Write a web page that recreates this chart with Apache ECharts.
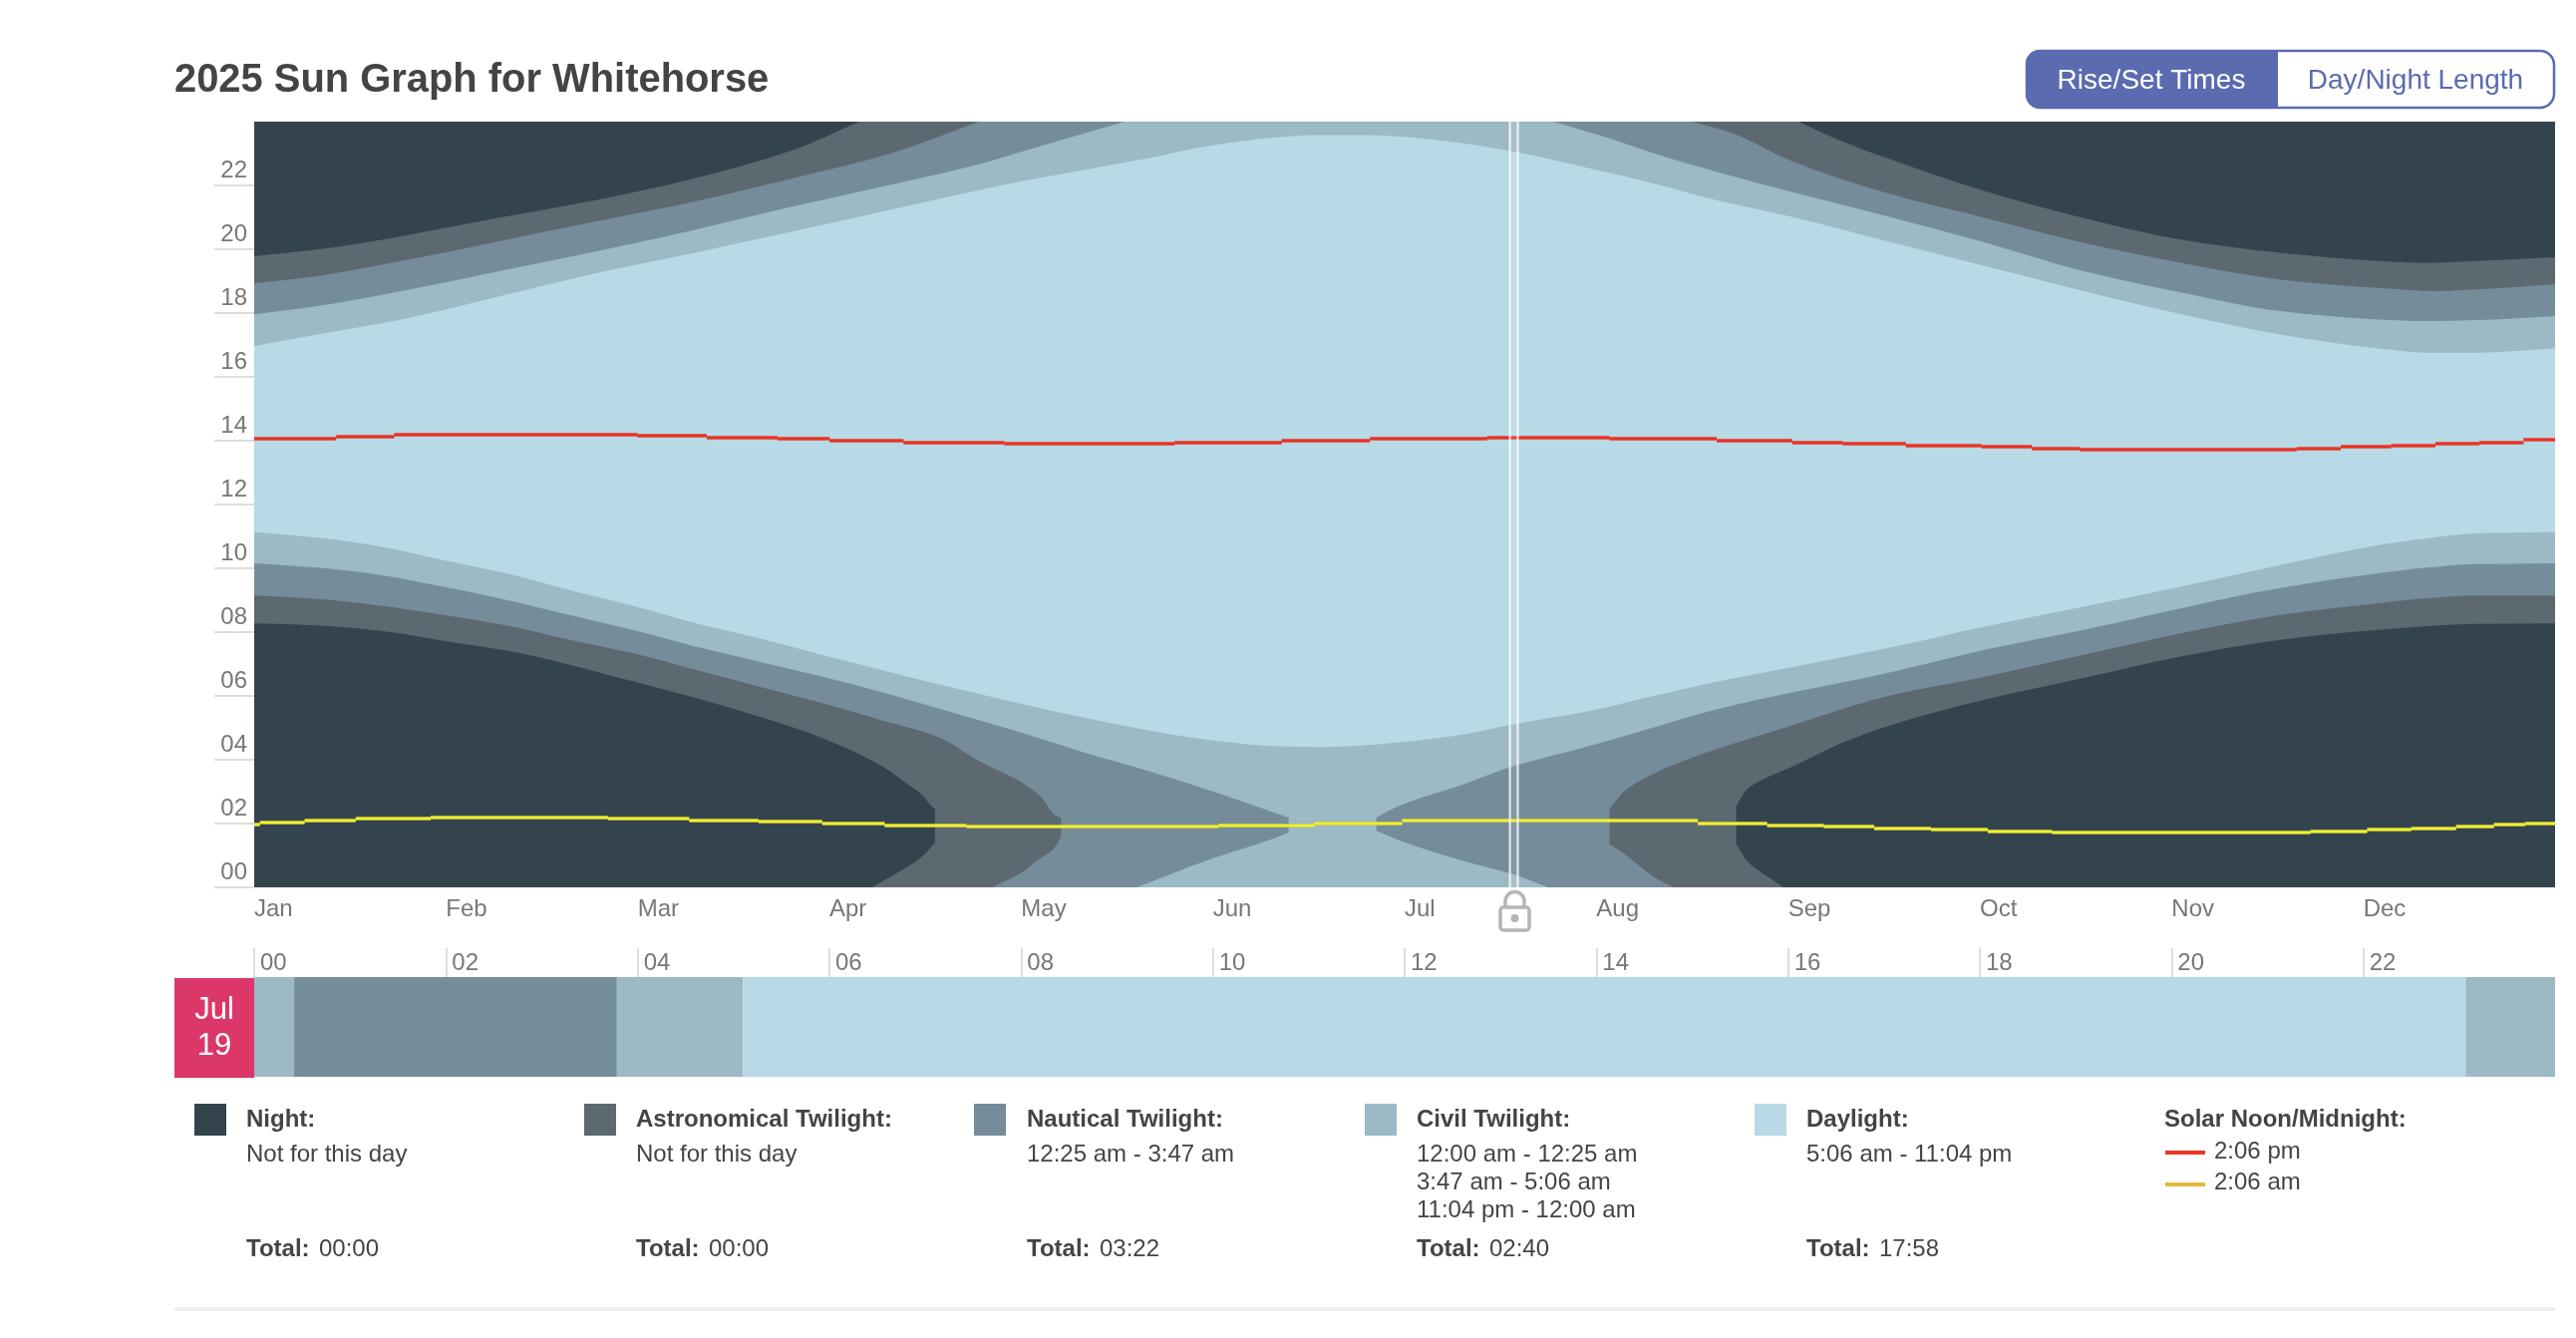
<!DOCTYPE html>
<html>
<head>
<meta charset="utf-8">
<title>2025 Sun Graph for Whitehorse</title>
<script src="https://cdn.jsdelivr.net/npm/echarts@6/dist/echarts.min.js"></script>
<style>
  html, body { margin: 0; padding: 0; background: #fff; }
  #chart { width: 2584px; height: 1342px; }
</style>
</head>
<body>
<div id="chart"></div>
<script>
// Axis labels
const monthLabels = ['Jan','Feb','Mar','Apr','May','Jun','Jul','Aug','Sep','Oct','Nov','Dec'];
const hourLabels = ['00','02','04','06','08','10','12','14','16','18','20','22'];
const hourTicks = [0,2,4,6,8,10,12,14,16,18,20,22];

// Band edges, each point is [day of year, hour of day]
const dawnDaylight = [[0,11.13],[10,10.96],[20,10.68],[30,10.26],[40,9.84],[50,9.32],[60,8.83],[70,8.28],[80,7.81],[90,7.29],[100,6.79],[110,6.30],[120,5.83],[131.8,5.31],[141.8,4.92],[151.8,4.61],[161.8,4.43],[168.4,4.40],[171.8,4.41],[181.8,4.55],[191.8,4.79],[199.5,5.10],[211.8,5.52],[221.8,5.99],[231.8,6.44],[243.5,6.88],[259.1,7.50],[274.7,8.18],[290.2,8.80],[305.8,9.43],[321.4,10.10],[337,10.73],[344.7,10.94],[352.5,11.09],[365,11.13]];
const duskDaylight = [[0,16.97],[10,17.33],[23.3,17.80],[40,18.58],[54.4,19.26],[69.9,19.89],[85.5,20.56],[101,21.24],[116.6,21.92],[121.8,22.13],[131.8,22.49],[141.8,22.85],[151.8,23.25],[161.8,23.50],[168.4,23.58],[176.2,23.58],[181.8,23.53],[191.8,23.32],[199.5,23.07],[211.8,22.54],[221.8,22.07],[231.8,21.55],[243.6,21.03],[259.1,20.25],[274.7,19.47],[290.2,18.69],[305.8,17.96],[321.4,17.33],[337,16.89],[344.7,16.76],[352.5,16.76],[365,16.89]];

const dawnCivilSpring = [[0,10.16],[10,10.02],[20,9.79],[30,9.42],[40,9.01],[50,8.54],[60,8.07],[70,7.55],[80,7.08],[90,6.61],[100,6.09],[110,5.52],[121.8,4.84],[131.8,4.22],[141.8,3.65],[151.8,3.02],[161.8,2.34],[164.1,2.19]];
const wrapCivilSpring = [[140,0],[151.8,0.89],[161.8,1.54],[164.1,1.72]];
const dawnCivilAutumn = [[178,2.19],[181.8,2.57],[191.8,3.23],[199.5,3.78],[211.8,4.43],[221.8,5.00],[231.8,5.57],[243.6,6.09],[259.1,6.72],[274.7,7.45],[290.2,8.07],[305.8,8.75],[321.4,9.38],[337,9.84],[344.7,10.02],[352.5,10.13],[365,10.16]];
const wrapCivilAutumn = [[178,1.77],[181.8,1.46],[191.8,0.83],[199.5,0.42],[205.3,0]];
const duskCivilSpring = [[0,17.96],[10,18.22],[23.3,18.69],[40,19.36],[54.4,19.94],[69.9,20.61],[85.5,21.34],[101,22.02],[116.6,22.75],[121.8,23.06],[131.8,23.64],[138.1,24]];
const duskCivilAutumn = [[206,24],[215,23.48],[222,23.01],[231.8,22.44],[243.6,21.81],[259.1,21.03],[274.7,20.20],[290.2,19.31],[305.8,18.64],[321.4,18.06],[337,17.80],[344.7,17.75],[352.5,17.78],[365,17.91]];

const dawnNauticalSpring = [[0,9.15],[10,9.04],[20,8.83],[30,8.54],[40,8.21],[50,7.76],[60,7.34],[70,6.82],[80,6.30],[90,5.78],[100,5.21],[108.8,4.69],[115,3.96],[121.8,3.28],[124.9,2.81],[127.2,2.24],[128,2.19]];
const wrapNauticalSpring = [[117,0],[121.8,0.47],[124.1,0.83],[127.2,1.30],[128,1.62]];
const dawnNauticalAutumn = [[215,2.45],[217.4,3.02],[221.8,3.54],[226.7,3.96],[231.8,4.32],[243.5,5.05],[259.1,5.99],[274.7,6.61],[290.2,7.29],[305.8,7.97],[321.4,8.54],[337,8.91],[344.7,9.06],[352.5,9.15],[365,9.15]];
const wrapNauticalAutumn = [[215,1.35],[217.4,1.04],[221.8,0.36],[225.1,0]];
const duskNauticalSpring = [[0,18.93],[10,19.16],[23.3,19.63],[40,20.30],[54.4,20.88],[69.9,21.50],[85.5,22.23],[101,23.01],[115,24]];
const duskNauticalAutumn = [[228.1,24],[234.5,23.64],[243.5,22.80],[259.1,21.76],[274.7,20.98],[290.2,20.20],[305.8,19.57],[321.4,19.05],[337,18.79],[346.3,18.69],[352.5,18.74],[365,18.90]];

const dawnAstroSpring = [[0,8.27],[10,8.21],[20,8.04],[30,7.73],[40,7.42],[50,6.98],[60,6.46],[70,5.94],[80,5.36],[90,4.69],[100,3.75],[103.3,3.28],[106.1,2.87],[107.2,2.60],[108,2.45]];
const wrapAstroSpring = [[98,0],[102.6,0.52],[106.1,0.99],[108,1.41]];
const dawnAstroAutumn = [[235.1,2.55],[236.8,3.07],[239.9,3.44],[243.6,3.75],[251.3,4.48],[259.1,5.05],[274.7,5.89],[290.2,6.56],[305.8,7.24],[321.4,7.76],[337,8.07],[352.5,8.26],[365,8.27]];
const wrapAstroAutumn = [[235.1,1.35],[236.8,0.83],[239.9,0.36],[242.6,0]];
const duskAstroSpring = [[0,19.78],[10,19.99],[23.3,20.41],[40,21.03],[54.4,21.55],[69.9,22.23],[85.5,23.11],[96,24]];
const duskAstroAutumn = [[245,24],[251.3,23.43],[259.1,22.85],[274.7,21.81],[290.2,20.98],[305.8,20.30],[321.4,19.89],[337,19.63],[344.7,19.57],[352.5,19.63],[365,19.75]];

// Solar noon and solar midnight: each value holds until the next entry's day
const solarNoon = [[0,14.06],[13,14.13],[22.2,14.2],[60.8,14.15],[71.8,14.1],[83,14.05],[91.3,14],[103,13.95],[119,13.9],[146,13.95],[163,14],[177,14.05],[195.6,14.1],[215,14.05],[232,14],[244,13.95],[252,13.9],[262,13.85],[274,13.8],[282,13.76],[289.6,13.71],[324,13.76],[331,13.8],[339,13.85],[346,13.9],[353,13.95],[360,14.03],[365,14.03]];
const solarMidnight = [[0,1.98],[0.9,2.03],[8,2.10],[16.1,2.146],[28,2.198],[56.1,2.146],[69,2.10],[80,2.05],[90.1,2.0],[100,1.948],[113,1.896],[153,1.948],[168.2,2.0],[182.1,2.1],[229,1.99],[240,1.948],[249,1.896],[257,1.854],[266,1.80],[275,1.76],[285.2,1.71],[326.2,1.76],[335.2,1.80],[342.2,1.854],[349.3,1.906],[355.3,1.958],[360.3,2.01],[365,2.01]];

// The selected day's column on the year axis
const selectedColumn = [199.2, 200.45];

// The selected day, in minutes since midnight
const stripStarts = [0, 25, 227, 306, 1384];
const stripEnds = [25, 227, 306, 1384, 1440];
const stripBands = ['civil', 'nautical', 'civil', 'daylight', 'civil'];

const FONT = '"Liberation Sans", Helvetica, Arial, sans-serif';
const colors = {
  night: '#34444e', astro: '#5c6970', nautical: '#758c9a', civil: '#9cb9c6', daylight: '#b8d9e6'
};

// A region is a list of runs; each run is curved through its points and
// runs are joined by straight segments.
const above = e => [[[e[0][0], 24]], e, [[e[e.length - 1][0], 24]]];
const below = e => [[[e[0][0], 0]], e, [[e[e.length - 1][0], 0]]];
const lobeSpring = (upper, lower) => [[[0, 0]], upper, lower.slice().reverse()];
const lobeAutumn = (upper, lower) => [upper, [[365, 0]], lower.slice().reverse()];

const wholeYear = [[[0, 0]], [[365, 0]], [[365, 24]], [[0, 24]]];
const layers = [
  { fill: colors.daylight, regions: [wholeYear] },
  { fill: colors.civil, regions: [above(duskDaylight), below(dawnDaylight)] },
  { fill: colors.nautical, regions: [above(duskCivilSpring), above(duskCivilAutumn), lobeSpring(dawnCivilSpring, wrapCivilSpring), lobeAutumn(dawnCivilAutumn, wrapCivilAutumn)] },
  { fill: colors.astro, regions: [above(duskNauticalSpring), above(duskNauticalAutumn), lobeSpring(dawnNauticalSpring, wrapNauticalSpring), lobeAutumn(dawnNauticalAutumn, wrapNauticalAutumn)] },
  { fill: colors.night, regions: [above(duskAstroSpring), above(duskAstroAutumn), lobeSpring(dawnAstroSpring, wrapAstroSpring), lobeAutumn(dawnAstroAutumn, wrapAstroAutumn)] }
];

// Monotone cubic segments through pixel points, so edges stay round without overshoot
function runPath(px, isFirst) {
  let d = (isFirst ? 'M' : 'L') + px[0][0] + ' ' + px[0][1];
  const n = px.length;
  if (n < 2) return d;
  const h = [], s = [];
  for (let i = 0; i < n - 1; i++) {
    h[i] = px[i + 1][0] - px[i][0];
    s[i] = (px[i + 1][1] - px[i][1]) / h[i];
  }
  const m = [s[0]];
  for (let i = 1; i < n - 1; i++) {
    m[i] = s[i - 1] * s[i] <= 0 ? 0
      : 3 * (h[i - 1] + h[i]) / ((2 * h[i] + h[i - 1]) / s[i - 1] + (h[i] + 2 * h[i - 1]) / s[i]);
  }
  m[n - 1] = s[n - 2];
  for (let i = 0; i < n - 1; i++) {
    const t = h[i] / 3;
    d += ' C' + (px[i][0] + t) + ' ' + (px[i][1] + m[i] * t) + ' '
      + (px[i + 1][0] - t) + ' ' + (px[i + 1][1] - m[i + 1] * t) + ' '
      + px[i + 1][0] + ' ' + px[i + 1][1];
  }
  return d;
}

const bandSeries = layers.map((layer, i) => ({
  type: 'custom',
  coordinateSystem: 'cartesian2d',
  xAxisIndex: 0,
  yAxisIndex: 0,
  silent: true,
  z: 1 + i,
  data: layer.regions.map((r, k) => [k]),
  encode: { x: [], y: [] },
  renderItem: (params, api) => ({
    type: 'path',
    shape: {
      pathData: layer.regions[params.dataIndex]
        .map((run, k) => runPath(run.map(p => api.coord(p)), k === 0))
        .join(' ') + ' Z'
    },
    style: { fill: layer.fill }
  })
}));

// Flat runs of a stepped daily time, one horizontal stroke per entry
const stepLine = (data, color, width, opacity, z) => ({
  type: 'custom',
  coordinateSystem: 'cartesian2d',
  xAxisIndex: 0,
  yAxisIndex: 0,
  silent: true,
  z,
  data,
  encode: { x: 0, y: 1 },
  renderItem: (params, api) => {
    const i = params.dataIndex;
    if (i >= data.length - 1) return null;
    const a = api.coord(data[i]);
    const b = api.coord([data[i + 1][0], data[i][1]]);
    const y = Math.round(a[1]);
    return {
      type: 'line',
      shape: { x1: a[0], y1: y, x2: b[0], y2: y },
      style: { stroke: color, lineWidth: width, opacity, lineCap: 'butt' }
    };
  }
});

const selectedSeries = {
  type: 'custom',
  coordinateSystem: 'cartesian2d',
  xAxisIndex: 0,
  yAxisIndex: 0,
  silent: true,
  z: 12,
  data: [selectedColumn],
  encode: { x: [0, 1], y: [] },
  renderItem: (params, api) => {
    const a = api.coord([api.value(0), 0]);
    const b = api.coord([api.value(1), 24]);
    return {
      type: 'group',
      children: [
        { type: 'rect', shape: { x: a[0], y: b[1], width: b[0] - a[0], height: a[1] - b[1] }, style: { fill: 'rgba(255,255,255,0.1)' } },
        { type: 'line', shape: { x1: a[0], y1: a[1], x2: a[0], y2: b[1] }, style: { stroke: 'rgba(255,255,255,0.85)', lineWidth: 2 } },
        { type: 'line', shape: { x1: b[0], y1: a[1], x2: b[0], y2: b[1] }, style: { stroke: 'rgba(255,255,255,0.85)', lineWidth: 2 } }
      ]
    };
  }
};

const stripSeries = {
  type: 'custom',
  coordinateSystem: 'cartesian2d',
  xAxisIndex: 1,
  yAxisIndex: 1,
  silent: true,
  z: 2,
  data: stripStarts.map((s, i) => [s / 60, stripEnds[i] / 60, stripBands[i]]),
  encode: { x: [0, 1], y: [] },
  renderItem: (params, api) => {
    const a = api.coord([api.value(0), 0]);
    const b = api.coord([api.value(1), 1]);
    return {
      type: 'rect',
      shape: { x: a[0], y: b[1], width: b[0] - a[0], height: a[1] - b[1] },
      style: { fill: colors[stripBands[params.dataIndex]] }
    };
  }
};

// Page furniture around the two plots
const txt = (x, y, text, size, color, weight, align) => ({
  type: 'text', silent: true, z: 20,
  style: {
    x, y, text, fill: color,
    font: (weight || 'normal') + ' ' + size + 'px ' + FONT,
    textAlign: align || 'left', textVerticalAlign: 'middle'
  }
});
const box = (x, y, width, height, fill, r) => ({
  type: 'rect', silent: true, z: 20,
  shape: { x, y, width, height, r: r || 0 },
  style: { fill }
});

const INK = '#444444';
const legendColumns = [
  { sx: 195, tx: 247, fill: colors.night, name: 'Night:', lines: ['Not for this day'], total: '00:00' },
  { sx: 586, tx: 638, fill: colors.astro, name: 'Astronomical Twilight:', lines: ['Not for this day'], total: '00:00' },
  { sx: 977, tx: 1030, fill: colors.nautical, name: 'Nautical Twilight:', lines: ['12:25 am - 3:47 am'], total: '03:22' },
  { sx: 1369, tx: 1421, fill: colors.civil, name: 'Civil Twilight:', lines: ['12:00 am - 12:25 am', '3:47 am - 5:06 am', '11:04 pm - 12:00 am'], total: '02:40' },
  { sx: 1760, tx: 1812, fill: colors.daylight, name: 'Daylight:', lines: ['5:06 am - 11:04 pm'], total: '17:58' }
];

const graphics = [];
graphics.push(txt(175, 81, '2025 Sun Graph for Whitehorse', 39.9, INK, 'bold'));

// Rise/Set and Day/Night toggle
graphics.push({
  type: 'rect', silent: true, z: 20,
  shape: { x: 2033, y: 51, width: 529, height: 57, r: 14 },
  style: { fill: '#ffffff', stroke: '#5a6bb0', lineWidth: 2.5 }
});
graphics.push({
  type: 'rect', silent: true, z: 21,
  shape: { x: 2032, y: 50, width: 253, height: 59, r: [14, 0, 0, 14] },
  style: { fill: '#5a6bb0' }
});
graphics.push(Object.assign(txt(2158, 81.5, 'Rise/Set Times', 28, '#ffffff', 'normal', 'center'), { z: 22 }));
graphics.push(txt(2423, 81.5, 'Day/Night Length', 28, '#5a6bb0', 'normal', 'center'));

// Padlock under the selected column
const lockGrey = '#b5b5b5';
graphics.push({
  type: 'arc', silent: true, z: 20,
  shape: { cx: 1519.5, cy: 904, r: 9.5, startAngle: Math.PI, endAngle: 2 * Math.PI, clockwise: true },
  style: { fill: 'none', stroke: lockGrey, lineWidth: 3.5 }
});
graphics.push({
  type: 'line', silent: true, z: 20,
  shape: { x1: 1510, y1: 904, x2: 1510, y2: 910 },
  style: { stroke: lockGrey, lineWidth: 3.5 }
});
graphics.push({
  type: 'line', silent: true, z: 20,
  shape: { x1: 1529, y1: 904, x2: 1529, y2: 910 },
  style: { stroke: lockGrey, lineWidth: 3.5 }
});
graphics.push({
  type: 'rect', silent: true, z: 20,
  shape: { x: 1505, y: 910, width: 29, height: 23, r: 3 },
  style: { fill: '#ffffff', stroke: lockGrey, lineWidth: 3.5 }
});
graphics.push({
  type: 'circle', silent: true, z: 20,
  shape: { cx: 1519.5, cy: 921, r: 4 },
  style: { fill: lockGrey }
});

// Date badge beside the day strip
graphics.push(box(175, 981, 80, 100, '#db3769'));
graphics.push(txt(215, 1013.5, 'Jul', 31, '#ffffff', 'normal', 'center'));
graphics.push(txt(215, 1049.5, '19', 31, '#ffffff', 'normal', 'center'));

// Legend columns
legendColumns.forEach(c => {
  graphics.push(box(c.sx, 1107, 32, 32, c.fill));
  graphics.push(txt(c.tx, 1123, c.name, 24, INK, 'bold'));
  c.lines.forEach((line, i) => graphics.push(txt(c.tx, 1158 + i * 28, line, 24, INK)));
  graphics.push(txt(c.tx, 1253.5, 'Total:', 24, INK, 'bold'));
  graphics.push(txt(c.tx + 73, 1253.5, c.total, 24, INK));
});
graphics.push(txt(2171, 1123, 'Solar Noon/Midnight:', 24, INK, 'bold'));
graphics.push(box(2172, 1154, 40, 4, '#ee3524'));
graphics.push(txt(2221, 1155, '2:06 pm', 24, INK));
graphics.push(box(2172, 1186, 40, 4, '#e0b93e'));
graphics.push(txt(2221, 1186.5, '2:06 am', 24, INK));

// Rule closing the panel
graphics.push(box(175, 1311, 2388, 4, '#eeeeee'));

const tickGrey = '#dddddd';
const labelGrey = '#777777';

const chart = echarts.init(document.getElementById('chart'), null, { renderer: 'canvas', width: 2584, height: 1342 });
chart.setOption({
  animation: false,
  backgroundColor: '#ffffff',
  grid: [
    { left: 255, top: 122, width: 2308, height: 768 },
    { left: 255, top: 980, width: 2308, height: 100 }
  ],
  xAxis: [
    {
      type: 'value', gridIndex: 0, min: 0, max: 365, position: 'bottom',
      splitLine: { show: false }, axisLine: { show: false, onZero: false }, axisTick: { show: false },
      axisLabel: {
        customValues: monthLabels.map((m, i) => i * 365 / 12),
        formatter: v => monthLabels[Math.round(v * 12 / 365)],
        align: 'left', verticalAlign: 'top', margin: 10,
        fontFamily: FONT, fontSize: 24, color: labelGrey
      }
    },
    {
      type: 'value', gridIndex: 1, min: 0, max: 24, position: 'top',
      splitLine: { show: false }, axisLine: { show: false, onZero: false },
      axisTick: { show: true, customValues: hourTicks, length: 29, lineStyle: { color: tickGrey, width: 2 } },
      axisLabel: {
        customValues: hourTicks,
        formatter: v => hourLabels[hourTicks.indexOf(v)],
        align: 'left', verticalAlign: 'bottom', margin: 2, padding: [0, 0, 0, 6],
        fontFamily: FONT, fontSize: 24, color: labelGrey
      }
    }
  ],
  yAxis: [
    {
      type: 'value', gridIndex: 0, min: 0, max: 24,
      splitLine: { show: false }, axisLine: { show: false, onZero: false },
      axisTick: { show: true, customValues: hourTicks, length: 40, lineStyle: { color: tickGrey, width: 2 } },
      axisLabel: {
        customValues: hourTicks,
        formatter: v => hourLabels[hourTicks.indexOf(v)],
        align: 'right', verticalAlign: 'bottom', margin: 7, padding: [0, 0, 3, 0],
        fontFamily: FONT, fontSize: 24, color: labelGrey
      }
    },
    { type: 'value', gridIndex: 1, min: 0, max: 1, show: false }
  ],
  series: [
    ...bandSeries,
    stepLine(solarNoon, '#e23a2e', 4, 0.75, 8),
    stepLine(solarNoon, '#ee3022', 2, 1, 9),
    stepLine(solarMidnight, '#dcdc36', 4, 0.75, 8),
    stepLine(solarMidnight, '#f0f030', 2, 1, 9),
    selectedSeries,
    stripSeries
  ],
  graphic: { elements: graphics }
});
</script>
</body>
</html>
